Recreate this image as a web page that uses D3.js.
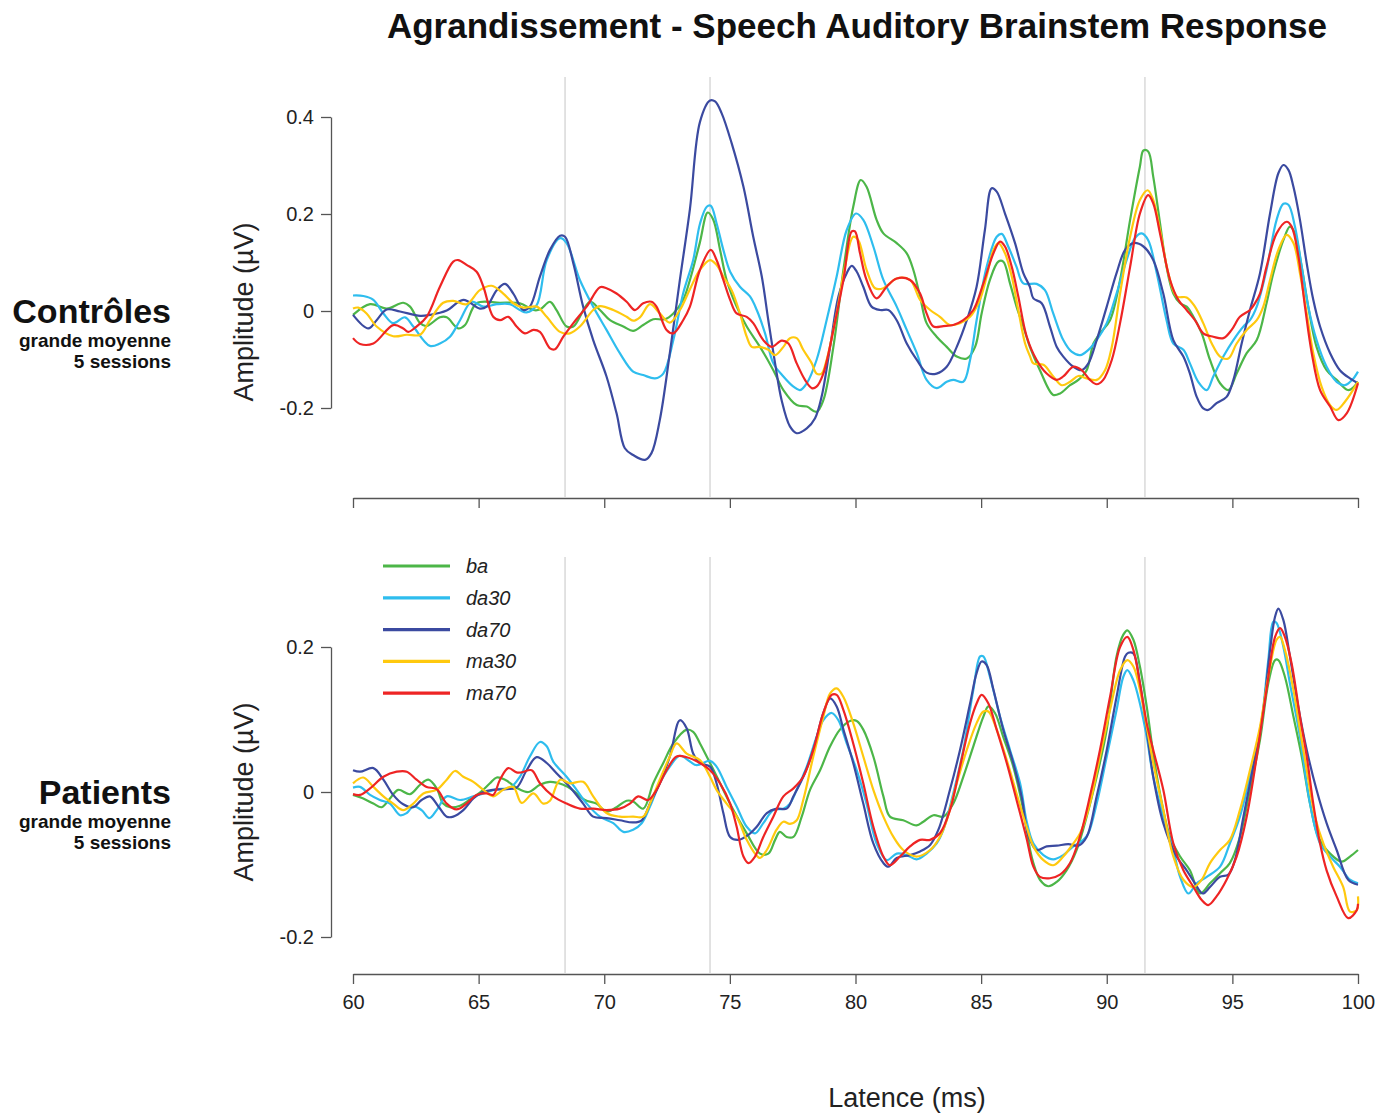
<!DOCTYPE html>
<html>
<head>
<meta charset="utf-8">
<script src="https://cdn.jsdelivr.net/npm/d3@7"></script>
<style>
  html, body { margin: 0; padding: 0; background: #ffffff; }
  svg { display: block; font-family: "Liberation Sans", Arial, Helvetica, sans-serif; }
</style>
</head>
<body>
<svg id="chart" width="1392" height="1113"></svg>
<script>
// ---- Stimulus conditions and styling keys ----
const conditions = ["ba", "da30", "da70", "ma30", "ma70"];
const conditionColors = ["#4cb648", "#2ebdee", "#3b4aa0", "#ffc90e", "#ee2424"];

// ---- Axis ticks ----
const xTicks = [60, 65, 70, 75, 80, 85, 90, 95, 100];
const ctrlTicks = [-0.2, 0, 0.2, 0.4];
const patTicks = [-0.2, 0, 0.2];

// ---- Reference latencies (ms) marked with vertical lines ----
const markerLatencies = [68.44, 74.21, 91.52];

// ---- Controls: grand average over 5 sessions, [latency ms, amplitude µV] ----
const ctrl_ba = [[60,-0.008],[60.68,0.014],[61.34,0.005],[62.0,0.017],[62.27,0.009],[62.67,-0.025],[62.93,-0.031],[63.46,-0.013],[63.73,-0.013],[64.19,-0.036],[64.46,-0.029],[64.92,0.016],[65.85,0.017],[66.64,0.016],[67.18,0.002],[67.44,0.003],[67.84,0.019],[68.1,0.002],[68.5,-0.032],[68.77,-0.032],[69.43,0.019],[69.83,0.002],[70.23,-0.019],[70.76,-0.032],[71.15,-0.041],[71.55,-0.029],[71.95,-0.017],[72.41,-0.017],[72.75,-0.005],[73.14,0.023],[73.41,0.064],[73.8,0.14],[74.12,0.203],[74.34,0.188],[74.61,0.126],[74.87,0.064],[75.27,0.009],[75.67,-0.032],[76.2,-0.074],[76.73,-0.122],[77.13,-0.163],[77.66,-0.194],[78.06,-0.197],[78.45,-0.208],[78.72,-0.184],[79.12,-0.074],[79.52,0.085],[79.91,0.215],[80.21,0.27],[80.44,0.256],[80.84,0.188],[81.11,0.16],[81.64,0.14],[82.04,0.119],[82.3,0.085],[82.57,0.03],[82.83,-0.025],[83.23,-0.053],[83.63,-0.074],[84.03,-0.094],[84.43,-0.098],[84.76,-0.074],[85.02,-0.005],[85.35,0.064],[85.69,0.102],[85.88,0.102],[86.15,0.057],[86.41,0.009],[86.68,-0.032],[86.94,-0.074],[87.34,-0.122],[87.87,-0.173],[88.14,-0.17],[88.54,-0.153],[88.87,-0.142],[89.2,-0.122],[89.47,-0.067],[89.73,-0.046],[90.13,-0.019],[90.53,0.064],[90.93,0.188],[91.32,0.298],[91.46,0.331],[91.65,0.329],[91.85,0.277],[92.12,0.181],[92.38,0.091],[92.65,0.036],[92.92,0.016],[93.18,0.009],[93.45,-0.012],[93.78,-0.046],[94.11,-0.101],[94.51,-0.149],[94.84,-0.163],[95.17,-0.129],[95.57,-0.087],[95.97,-0.06],[96.36,0.016],[96.63,0.078],[97.03,0.146],[97.29,0.174],[97.49,0.16],[97.76,0.091],[98.02,0.009],[98.35,-0.074],[98.75,-0.122],[99.15,-0.142],[99.62,-0.163],[100,-0.146]];

const ctrl_da30 = [[60,0.032],[60.41,0.031],[60.81,0.023],[61.21,-0.005],[61.6,-0.025],[62.07,-0.013],[62.4,-0.032],[63.06,-0.072],[63.46,-0.067],[63.86,-0.053],[64.26,-0.019],[64.72,0.019],[65.19,0.009],[65.72,0.014],[66.25,0.014],[66.64,0.002],[66.91,-0.003],[67.31,0.012],[67.71,0.105],[68.24,0.15],[68.5,0.14],[69.03,0.064],[69.56,0.009],[70.09,-0.039],[70.62,-0.087],[71.15,-0.125],[71.55,-0.132],[72.02,-0.139],[72.35,-0.129],[72.75,-0.06],[73.14,0.036],[73.54,0.105],[73.81,0.18],[74.08,0.215],[74.24,0.217],[74.47,0.181],[74.74,0.126],[75.01,0.081],[75.4,0.05],[75.8,0.03],[76.07,0.002],[76.4,-0.046],[76.73,-0.108],[77.13,-0.135],[77.53,-0.156],[77.79,-0.163],[78.06,-0.149],[78.45,-0.101],[78.85,-0.019],[79.25,0.071],[79.65,0.167],[80.02,0.201],[80.31,0.188],[80.71,0.133],[81.11,0.064],[81.64,0.009],[82.04,-0.039],[82.44,-0.087],[82.83,-0.142],[83.23,-0.159],[83.63,-0.146],[83.89,-0.142],[84.29,-0.146],[84.56,-0.101],[84.82,-0.019],[85.22,0.091],[85.62,0.153],[85.82,0.159],[86.08,0.133],[86.41,0.091],[86.68,0.057],[87.21,0.056],[87.54,0.043],[87.87,-0.005],[88.27,-0.06],[88.6,-0.084],[88.94,-0.091],[89.27,-0.08],[89.6,-0.06],[90.0,-0.025],[90.39,0.036],[90.79,0.105],[91.12,0.15],[91.39,0.16],[91.65,0.146],[91.99,0.078],[92.38,-0.019],[92.65,-0.067],[93.05,-0.08],[93.31,-0.108],[93.64,-0.146],[93.98,-0.163],[94.24,-0.135],[94.64,-0.094],[95.04,-0.06],[95.44,-0.032],[95.7,-0.019],[95.97,0.009],[96.36,0.085],[96.76,0.188],[97.03,0.221],[97.23,0.219],[97.49,0.174],[97.76,0.091],[98.02,0.009],[98.35,-0.06],[98.75,-0.115],[99.15,-0.146],[99.48,-0.153],[99.82,-0.139],[100,-0.125]];

const ctrl_da70 = [[60,-0.008],[60.61,-0.036],[60.94,-0.019],[61.34,0.003],[61.87,-0.001],[62.67,-0.01],[63.06,-0.008],[63.73,0.001],[64.39,0.023],[65.05,0.005],[65.32,0.009],[65.72,0.043],[66.05,0.056],[66.38,0.036],[66.78,0.002],[67.04,0.009],[67.44,0.071],[67.84,0.126],[68.24,0.155],[68.44,0.153],[68.77,0.098],[69.16,0.009],[69.56,-0.06],[70.09,-0.135],[70.49,-0.211],[70.82,-0.283],[71.15,-0.297],[71.62,-0.307],[71.88,-0.293],[72.21,-0.225],[72.61,-0.087],[73.01,0.064],[73.41,0.21],[73.81,0.39],[74.21,0.434],[74.41,0.432],[74.67,0.408],[75.07,0.346],[75.54,0.256],[75.93,0.153],[76.27,0.071],[76.53,-0.019],[76.8,-0.108],[77.06,-0.184],[77.39,-0.238],[77.66,-0.252],[78.06,-0.242],[78.39,-0.221],[78.65,-0.177],[78.99,-0.074],[79.32,0.03],[79.65,0.078],[79.85,0.093],[80.05,0.081],[80.31,0.05],[80.64,0.009],[80.98,0.002],[81.31,0.002],[81.64,-0.019],[82.04,-0.067],[82.44,-0.101],[82.83,-0.127],[83.23,-0.129],[83.63,-0.115],[84.03,-0.074],[84.43,-0.019],[84.82,0.05],[85.15,0.167],[85.42,0.253],[85.62,0.246],[85.95,0.201],[86.35,0.14],[86.68,0.078],[86.94,0.05],[87.08,0.026],[87.41,0.016],[87.74,-0.032],[88.01,-0.074],[88.27,-0.094],[88.67,-0.115],[89.0,-0.122],[89.27,-0.108],[89.6,-0.06],[90.0,0.009],[90.39,0.078],[90.73,0.126],[91.06,0.14],[91.46,0.133],[91.85,0.105],[92.25,0.036],[92.65,-0.06],[93.05,-0.094],[93.31,-0.129],[93.58,-0.177],[93.84,-0.201],[94.04,-0.204],[94.37,-0.19],[94.77,-0.177],[95.04,-0.142],[95.37,-0.067],[95.7,0.002],[96.1,0.078],[96.5,0.201],[96.83,0.284],[97.03,0.301],[97.23,0.291],[97.43,0.256],[97.69,0.188],[97.96,0.098],[98.22,0.023],[98.49,-0.032],[98.89,-0.087],[99.28,-0.122],[99.68,-0.139],[100,-0.149]];

const ctrl_ma30 = [[60,0.005],[60.21,0.007],[60.54,-0.005],[60.94,-0.032],[61.6,-0.052],[62.14,-0.049],[62.67,-0.049],[63.06,-0.019],[63.59,0.017],[63.99,0.021],[64.52,0.014],[65.05,0.043],[65.52,0.052],[65.98,0.036],[66.38,0.016],[66.78,0.007],[67.31,0.009],[67.71,-0.012],[68.24,-0.043],[68.63,-0.046],[69.03,-0.032],[69.56,0.002],[69.83,0.01],[70.36,0.002],[70.89,-0.012],[71.15,-0.02],[71.42,-0.013],[71.82,0.014],[72.21,-0.005],[72.61,-0.024],[73.01,0.002],[73.41,0.045],[73.81,0.085],[74.21,0.105],[74.47,0.095],[74.74,0.071],[75.07,0.043],[75.4,-0.005],[75.67,-0.053],[75.87,-0.074],[76.2,-0.074],[76.53,-0.08],[76.8,-0.091],[77.13,-0.074],[77.39,-0.056],[77.66,-0.056],[77.92,-0.08],[78.26,-0.108],[78.45,-0.129],[78.65,-0.129],[78.85,-0.101],[79.25,-0.005],[79.58,0.091],[79.91,0.153],[80.11,0.146],[80.44,0.085],[80.78,0.047],[81.11,0.047],[81.64,0.067],[82.17,0.064],[82.57,0.023],[82.97,0.002],[83.36,-0.012],[83.76,-0.029],[84.16,-0.025],[84.56,-0.012],[84.95,0.023],[85.22,0.071],[85.49,0.126],[85.69,0.14],[85.95,0.119],[86.22,0.071],[86.48,0.002],[86.75,-0.067],[86.95,-0.094],[87.08,-0.108],[87.48,-0.111],[87.87,-0.135],[88.21,-0.153],[88.54,-0.146],[88.87,-0.134],[89.2,-0.139],[89.6,-0.142],[89.93,-0.122],[90.2,-0.074],[90.53,0.036],[90.93,0.153],[91.32,0.229],[91.63,0.249],[91.85,0.229],[92.12,0.167],[92.45,0.078],[92.78,0.03],[93.18,0.028],[93.51,0.009],[93.84,-0.025],[94.18,-0.067],[94.51,-0.094],[94.84,-0.098],[95.17,-0.067],[95.57,-0.039],[95.97,-0.019],[96.23,0.009],[96.5,0.064],[96.83,0.126],[97.16,0.157],[97.43,0.14],[97.69,0.078],[97.96,-0.005],[98.22,-0.087],[98.55,-0.156],[98.89,-0.194],[99.15,-0.204],[99.48,-0.187],[100,-0.146]];

const ctrl_ma70 = [[60,-0.056],[60.28,-0.068],[60.81,-0.067],[61.6,-0.029],[62.0,-0.036],[62.2,-0.043],[62.53,-0.032],[62.93,-0.012],[63.46,0.05],[63.99,0.102],[64.19,0.105],[64.52,0.095],[64.92,0.081],[65.19,0.05],[65.58,-0.012],[65.85,-0.019],[66.18,-0.012],[66.51,-0.032],[66.84,-0.046],[67.18,-0.039],[67.44,-0.043],[67.84,-0.077],[68.04,-0.079],[68.37,-0.053],[68.77,-0.025],[69.3,0.009],[69.83,0.049],[70.09,0.047],[70.49,0.036],[70.89,0.019],[71.22,0.002],[71.55,0.016],[71.88,0.019],[72.08,0.009],[72.48,-0.039],[72.75,-0.046],[73.14,-0.019],[73.41,0.009],[73.81,0.085],[74.24,0.126],[74.47,0.105],[74.74,0.064],[75.01,0.023],[75.27,-0.005],[75.67,-0.012],[75.93,-0.025],[76.33,-0.06],[76.66,-0.074],[77.06,-0.061],[77.33,-0.067],[77.66,-0.108],[77.99,-0.142],[78.26,-0.159],[78.45,-0.156],[78.72,-0.129],[79.12,-0.039],[79.52,0.064],[79.85,0.164],[79.98,0.164],[80.18,0.119],[80.44,0.064],[80.84,0.026],[81.24,0.05],[81.64,0.067],[82.17,0.064],[82.57,0.036],[82.83,-0.005],[83.1,-0.032],[83.5,-0.031],[83.89,-0.029],[84.29,-0.019],[84.69,0.002],[85.09,0.057],[85.49,0.119],[85.75,0.143],[85.95,0.133],[86.22,0.091],[86.48,0.03],[86.81,-0.052],[87.21,-0.101],[87.61,-0.129],[88.01,-0.142],[88.27,-0.135],[88.67,-0.115],[89.0,-0.122],[89.33,-0.142],[89.6,-0.151],[89.86,-0.142],[90.2,-0.101],[90.53,-0.025],[90.93,0.091],[91.32,0.201],[91.65,0.239],[91.85,0.222],[92.12,0.16],[92.52,0.064],[92.85,0.023],[93.18,0.002],[93.51,-0.019],[93.84,-0.046],[94.24,-0.053],[94.64,-0.056],[94.97,-0.039],[95.3,-0.012],[95.7,0.002],[95.9,0.016],[96.1,0.036],[96.36,0.091],[96.76,0.16],[97.16,0.184],[97.36,0.174],[97.63,0.112],[97.89,0.009],[98.16,-0.087],[98.49,-0.163],[98.89,-0.197],[99.22,-0.225],[99.55,-0.211],[100,-0.149]];

// ---- Patients: grand average over 5 sessions, [latency ms, amplitude µV] ----
const pat_ba = [[60,-0.004],[60.41,-0.009],[60.81,-0.016],[61.14,-0.021],[61.47,-0.009],[61.8,0.003],[62.27,-0.003],[62.67,0.01],[63.0,0.017],[63.33,0.005],[63.59,-0.016],[63.86,-0.021],[64.26,-0.019],[64.66,-0.01],[65.05,-0.001],[65.45,0.012],[65.72,0.02],[66.05,0.017],[66.51,0.006],[66.98,0.0],[67.44,0.01],[67.84,0.014],[68.37,0.01],[68.77,0.002],[69.23,-0.011],[69.69,-0.016],[70.09,-0.027],[70.49,-0.021],[70.89,-0.012],[71.15,-0.013],[71.55,-0.023],[71.95,0.012],[72.35,0.04],[72.75,0.067],[73.28,0.086],[73.54,0.083],[73.81,0.067],[74.21,0.04],[74.61,0.012],[75.14,-0.025],[75.67,-0.057],[76.2,-0.085],[76.53,-0.085],[76.8,-0.066],[76.99,-0.055],[77.26,-0.062],[77.53,-0.062],[77.86,-0.034],[78.19,0.003],[78.59,0.03],[78.99,0.063],[79.38,0.086],[79.78,0.098],[80.05,0.098],[80.31,0.086],[80.71,0.049],[81.11,-0.006],[81.37,-0.034],[81.9,-0.039],[82.43,-0.046],[82.7,-0.041],[83.1,-0.032],[83.5,-0.034],[83.89,-0.016],[84.29,0.021],[84.69,0.063],[85.09,0.104],[85.29,0.118],[85.55,0.109],[85.88,0.076],[86.28,0.035],[86.68,-0.025],[86.95,-0.08],[87.08,-0.098],[87.34,-0.121],[87.67,-0.13],[88.01,-0.124],[88.4,-0.108],[88.8,-0.08],[89.2,-0.034],[89.6,0.021],[90.0,0.086],[90.39,0.187],[90.66,0.217],[90.82,0.223],[91.06,0.21],[91.32,0.173],[91.59,0.118],[91.85,0.053],[92.12,-0.002],[92.52,-0.062],[92.92,-0.089],[93.31,-0.108],[93.71,-0.14],[94.11,-0.126],[94.51,-0.112],[94.9,-0.098],[95.3,-0.062],[95.7,0.003],[96.1,0.072],[96.43,0.15],[96.7,0.182],[96.83,0.182],[97.09,0.159],[97.43,0.104],[97.76,0.049],[98.09,-0.016],[98.42,-0.062],[98.89,-0.085],[99.35,-0.096],[99.68,-0.089],[100,-0.08]];

const pat_da30 = [[60,0.006],[60.28,0.007],[60.68,-0.004],[61.07,-0.011],[61.47,-0.016],[61.87,-0.032],[62.14,-0.029],[62.4,-0.02],[62.73,-0.025],[63.04,-0.036],[63.33,-0.025],[63.73,-0.006],[64.26,-0.011],[64.79,-0.006],[65.19,-0.002],[65.72,0.004],[66.25,0.006],[66.64,0.021],[67.04,0.049],[67.44,0.069],[67.71,0.063],[67.97,0.042],[68.5,0.021],[68.9,0.003],[69.3,-0.016],[69.83,-0.034],[70.36,-0.043],[70.76,-0.055],[71.15,-0.052],[71.49,-0.043],[71.82,-0.02],[72.21,0.012],[72.61,0.035],[73.01,0.05],[73.41,0.042],[73.68,0.037],[74.21,0.043],[74.47,0.035],[74.87,0.007],[75.27,-0.02],[75.67,-0.048],[76.0,-0.057],[76.33,-0.043],[76.73,-0.025],[77.13,-0.023],[77.39,-0.016],[77.66,0.003],[78.06,0.035],[78.45,0.076],[78.72,0.099],[79.05,0.109],[79.32,0.099],[79.65,0.067],[80.05,0.03],[80.44,-0.016],[80.84,-0.071],[81.24,-0.094],[81.64,-0.085],[82.04,-0.087],[82.43,-0.093],[82.83,-0.085],[83.23,-0.071],[83.5,-0.052],[83.89,-0.002],[84.29,0.058],[84.69,0.141],[84.96,0.187],[85.09,0.187],[85.35,0.159],[85.75,0.104],[86.15,0.058],[86.55,0.012],[86.81,-0.04],[87.08,-0.071],[87.48,-0.087],[87.87,-0.093],[88.27,-0.087],[88.67,-0.075],[89.07,-0.066],[89.27,-0.057],[89.6,-0.016],[90.0,0.049],[90.39,0.113],[90.66,0.159],[90.82,0.168],[91.06,0.154],[91.32,0.122],[91.59,0.076],[91.85,0.021],[92.25,-0.034],[92.65,-0.08],[92.92,-0.117],[93.25,-0.14],[93.58,-0.126],[93.98,-0.117],[94.51,-0.103],[94.9,-0.071],[95.3,-0.034],[95.7,0.021],[96.1,0.081],[96.43,0.182],[96.63,0.235],[96.76,0.233],[97.03,0.2],[97.29,0.15],[97.69,0.076],[98.09,-0.016],[98.49,-0.071],[98.89,-0.089],[99.28,-0.103],[99.68,-0.121],[100,-0.126]];

const pat_da70 = [[60,0.03],[60.28,0.028],[60.81,0.033],[61.21,0.017],[61.6,-0.004],[62.0,-0.017],[62.4,-0.021],[62.73,-0.011],[63.06,-0.006],[63.4,-0.02],[63.73,-0.034],[63.99,-0.034],[64.39,-0.025],[64.79,-0.009],[65.19,0.0],[65.58,0.003],[66.11,0.004],[66.51,0.006],[66.91,0.03],[67.31,0.048],[67.71,0.04],[68.1,0.026],[68.63,0.007],[69.16,-0.016],[69.56,-0.034],[70.09,-0.036],[70.62,-0.039],[71.15,-0.042],[71.49,-0.039],[71.82,-0.016],[72.21,0.012],[72.61,0.049],[73.01,0.099],[73.28,0.088],[73.54,0.053],[73.8,0.04],[74.21,0.035],[74.47,0.012],[74.74,-0.029],[75.01,-0.062],[75.34,-0.066],[75.74,-0.059],[76.07,-0.048],[76.47,-0.029],[76.86,-0.023],[77.26,-0.023],[77.53,-0.006],[77.92,0.021],[78.32,0.058],[78.72,0.109],[78.99,0.129],[79.25,0.118],[79.52,0.086],[79.91,0.04],[80.31,-0.016],[80.71,-0.071],[81.11,-0.098],[81.31,-0.103],[81.64,-0.091],[82.17,-0.087],[82.57,-0.082],[82.97,-0.073],[83.3,-0.052],[83.76,0.003],[84.16,0.058],[84.56,0.122],[84.82,0.164],[85.02,0.18],[85.22,0.175],[85.49,0.141],[85.88,0.086],[86.28,0.04],[86.62,-0.008],[86.88,-0.06],[87.21,-0.08],[87.61,-0.075],[88.01,-0.074],[88.47,-0.072],[88.87,-0.074],[89.2,-0.062],[89.6,-0.006],[90.0,0.058],[90.39,0.131],[90.73,0.187],[90.86,0.192],[91.06,0.191],[91.32,0.15],[91.59,0.086],[91.85,0.021],[92.25,-0.043],[92.78,-0.089],[93.18,-0.108],[93.51,-0.126],[93.82,-0.14],[94.11,-0.131],[94.51,-0.117],[94.84,-0.114],[95.1,-0.094],[95.44,-0.034],[95.83,0.035],[96.23,0.113],[96.5,0.196],[96.7,0.242],[96.83,0.253],[97.03,0.237],[97.29,0.187],[97.62,0.118],[97.96,0.058],[98.35,0.003],[98.75,-0.043],[99.15,-0.08],[99.61,-0.121],[100,-0.128]];

const pat_ma30 = [[60,0.012],[60.41,0.02],[60.81,0.007],[61.21,-0.006],[61.6,-0.016],[62.0,-0.025],[62.4,-0.016],[62.8,-0.002],[63.33,0.003],[63.73,0.017],[64.06,0.029],[64.39,0.021],[64.79,0.014],[65.19,0.003],[65.58,-0.006],[65.98,0.003],[66.38,0.007],[66.71,-0.015],[67.18,-0.002],[67.57,-0.016],[67.84,-0.012],[68.24,0.017],[68.63,0.012],[69.16,0.014],[69.56,-0.006],[70.09,-0.029],[70.62,-0.034],[71.15,-0.034],[71.55,-0.034],[71.82,-0.016],[72.21,0.017],[72.61,0.049],[72.88,0.067],[73.28,0.053],[73.81,0.044],[74.21,0.021],[74.47,0.003],[74.87,-0.016],[75.27,-0.034],[75.67,-0.066],[76.0,-0.085],[76.2,-0.091],[76.47,-0.08],[76.86,-0.052],[77.13,-0.041],[77.39,-0.044],[77.66,-0.039],[77.92,-0.011],[78.32,0.049],[78.72,0.104],[78.99,0.136],[79.25,0.143],[79.52,0.131],[79.91,0.095],[80.31,0.049],[80.71,0.003],[81.11,-0.034],[81.51,-0.062],[81.9,-0.08],[82.43,-0.089],[82.97,-0.08],[83.36,-0.062],[83.63,-0.039],[84.03,0.012],[84.43,0.058],[84.82,0.095],[85.09,0.111],[85.29,0.111],[85.62,0.086],[86.02,0.044],[86.41,-0.002],[86.81,-0.048],[87.08,-0.075],[87.48,-0.094],[87.87,-0.101],[88.27,-0.089],[88.67,-0.071],[88.94,-0.057],[89.33,-0.016],[89.73,0.049],[90.13,0.113],[90.53,0.168],[90.82,0.182],[91.06,0.173],[91.32,0.141],[91.59,0.09],[91.85,0.04],[92.25,-0.025],[92.65,-0.089],[93.05,-0.121],[93.45,-0.131],[93.78,-0.121],[94.11,-0.098],[94.51,-0.08],[94.9,-0.066],[95.3,-0.025],[95.7,0.03],[96.1,0.09],[96.43,0.159],[96.76,0.21],[96.9,0.214],[97.09,0.196],[97.43,0.141],[97.69,0.086],[97.96,0.03],[98.29,-0.034],[98.62,-0.071],[99.01,-0.103],[99.41,-0.131],[99.68,-0.165],[99.95,-0.163],[100,-0.144]];

const pat_ma70 = [[60,-0.003],[60.28,-0.004],[60.68,0.005],[61.21,0.021],[61.74,0.028],[62.14,0.028],[62.53,0.017],[62.93,0.007],[63.33,0.004],[63.73,-0.016],[64.12,-0.024],[64.52,-0.016],[64.92,-0.004],[65.32,-0.002],[65.58,-0.004],[65.85,0.017],[66.18,0.033],[66.51,0.027],[66.71,0.027],[67.11,0.03],[67.44,0.012],[67.97,-0.006],[68.5,-0.016],[69.03,-0.023],[69.56,-0.023],[70.09,-0.025],[70.62,-0.023],[71.02,-0.016],[71.35,-0.006],[71.75,-0.011],[72.08,0.003],[72.48,0.03],[72.88,0.049],[73.28,0.048],[73.81,0.04],[74.21,0.03],[74.61,0.012],[75.01,-0.016],[75.27,-0.048],[75.54,-0.089],[75.74,-0.098],[76.0,-0.089],[76.33,-0.062],[76.73,-0.034],[77.13,-0.006],[77.53,0.005],[77.92,0.021],[78.32,0.058],[78.72,0.109],[79.05,0.134],[79.25,0.134],[79.52,0.113],[79.91,0.067],[80.31,0.012],[80.71,-0.048],[81.11,-0.089],[81.37,-0.101],[81.77,-0.089],[82.17,-0.075],[82.57,-0.066],[82.97,-0.066],[83.36,-0.057],[83.76,-0.025],[84.16,0.035],[84.56,0.095],[84.82,0.122],[85.02,0.134],[85.29,0.122],[85.62,0.086],[86.02,0.04],[86.41,-0.011],[86.81,-0.064],[87.08,-0.103],[87.34,-0.117],[87.74,-0.119],[88.14,-0.114],[88.54,-0.098],[88.93,-0.062],[89.33,-0.006],[89.73,0.058],[90.13,0.131],[90.53,0.2],[90.82,0.214],[91.06,0.196],[91.32,0.15],[91.59,0.095],[91.85,0.058],[92.25,0.003],[92.65,-0.071],[93.05,-0.108],[93.45,-0.131],[93.78,-0.149],[94.04,-0.156],[94.37,-0.144],[94.77,-0.121],[95.17,-0.089],[95.57,-0.034],[95.97,0.049],[96.36,0.141],[96.7,0.214],[96.9,0.226],[97.09,0.214],[97.36,0.177],[97.69,0.104],[97.96,0.049],[98.22,-0.016],[98.49,-0.071],[98.75,-0.108],[99.15,-0.144],[99.61,-0.174],[99.95,-0.163],[100,-0.154]];

const ctrlSeries = [ctrl_ba, ctrl_da30, ctrl_da70, ctrl_ma30, ctrl_ma70];
const patSeries = [pat_ba, pat_da30, pat_da70, pat_ma30, pat_ma70];

// ---- Layout ----
const svg = d3.select("#chart");
const FONT = '"Liberation Sans", Arial, Helvetica, sans-serif';
const axisX = 331;            // position of the vertical amplitude axes
const x = d3.scaleLinear().domain([60, 100]).range([353, 1358]);

const panels = [
  {
    series: ctrlSeries, ticks: ctrlTicks,
    y: d3.scaleLinear().domain([-0.2, 0.4]).range([408, 117]),
    top: 77, bottom: 497, axisY: 498, showXLabels: false,
    titleY: 312, group: "Contrôles", groupY: 323
  },
  {
    series: patSeries, ticks: patTicks,
    y: d3.scaleLinear().domain([-0.2, 0.2]).range([937, 647]),
    top: 557, bottom: 973, axisY: 974, showXLabels: true,
    titleY: 792, group: "Patients", groupY: 804
  }
];

// Title
svg.append("text")
  .attr("x", 857).attr("y", 38)
  .attr("text-anchor", "middle")
  .style("font-family", FONT).style("font-weight", "bold").style("font-size", "35px")
  .attr("fill", "#111")
  .text("Agrandissement - Speech Auditory Brainstem Response");

const fmtTick = d => d === 0 ? "0" : String(d);

panels.forEach((p, pi) => {
  const g = svg.append("g");

  // Clip region for the traces
  const clipId = "clip" + pi;
  svg.append("clipPath").attr("id", clipId)
    .append("rect").attr("x", x(60) - 2).attr("y", p.top)
    .attr("width", x(100) - x(60) + 4).attr("height", p.bottom - p.top);

  // Vertical reference latencies
  g.selectAll("line.marker").data(markerLatencies).enter().append("line")
    .attr("class", "marker")
    .attr("x1", d => x(d)).attr("x2", d => x(d))
    .attr("y1", p.top).attr("y2", p.bottom)
    .attr("stroke", "#d6d6d6").attr("stroke-width", 1.4);

  // Traces
  const line = d3.line()
    .x(d => x(d[0])).y(d => p.y(d[1]))
    .curve(d3.curveCatmullRom.alpha(0.5));
  g.append("g").attr("clip-path", `url(#${clipId})`)
    .selectAll("path").data(p.series).enter().append("path")
    .attr("d", line)
    .attr("fill", "none")
    .attr("stroke", (d, i) => conditionColors[i])
    .attr("stroke-width", 2.2)
    .attr("stroke-linejoin", "round");

  // Amplitude axis
  const yAxis = d3.axisLeft(p.y).tickValues(p.ticks).tickFormat(fmtTick)
    .tickSizeInner(10).tickSizeOuter(0).tickPadding(7);
  const ya = g.append("g").attr("transform", `translate(${axisX},0)`).call(yAxis);
  ya.select(".domain").attr("stroke", "#555").attr("stroke-width", 1.3);
  ya.selectAll(".tick line").attr("stroke", "#555").attr("stroke-width", 1.3);
  ya.selectAll(".tick text").style("font-family", FONT).style("font-size", "20px").attr("fill", "#222");

  // Latency axis
  const xAxis = d3.axisBottom(x).tickValues(xTicks)
    .tickFormat(p.showXLabels ? d3.format("d") : () => "")
    .tickSizeInner(10).tickSizeOuter(0).tickPadding(11);
  const xa = g.append("g").attr("transform", `translate(0,${p.axisY})`).call(xAxis);
  xa.select(".domain").attr("stroke", "#555").attr("stroke-width", 1.3);
  xa.selectAll(".tick line").attr("stroke", "#555").attr("stroke-width", 1.3);
  xa.selectAll(".tick text").style("font-family", FONT).style("font-size", "20px").attr("fill", "#222");

  // Amplitude axis title
  g.append("text")
    .attr("transform", `translate(253,${p.titleY}) rotate(-90)`)
    .attr("text-anchor", "middle")
    .style("font-family", FONT).style("font-size", "27px")
    .attr("fill", "#222")
    .text("Amplitude (µV)");

  // Group label
  const gl = g.append("g").attr("text-anchor", "end").style("font-family", FONT)
    .style("font-weight", "bold").attr("fill", "#111");
  gl.append("text").attr("x", 171).attr("y", p.groupY).style("font-size", "34px").text(p.group);
  gl.append("text").attr("x", 171).attr("y", p.groupY + 24).style("font-size", "19px").text("grande moyenne");
  gl.append("text").attr("x", 171).attr("y", p.groupY + 45).style("font-size", "19px").text("5 sessions");
});

// Latency axis title
svg.append("text")
  .attr("x", 907).attr("y", 1107)
  .attr("text-anchor", "middle")
  .style("font-family", FONT).style("font-size", "27px")
  .attr("fill", "#222")
  .text("Latence (ms)");

// Legend
const legend = svg.append("g").attr("transform", "translate(383,566)");
const rows = legend.selectAll("g").data(conditions).enter().append("g")
  .attr("transform", (d, i) => `translate(0,${i * 31.8})`);
rows.append("line")
  .attr("x1", 0).attr("x2", 67).attr("y1", 0).attr("y2", 0)
  .attr("stroke", (d, i) => conditionColors[i]).attr("stroke-width", 3.2);
rows.append("text")
  .attr("x", 83).attr("y", 7)
  .style("font-family", FONT).style("font-style", "italic").style("font-size", "20px")
  .attr("fill", "#222")
  .text(d => d);
</script>
</body>
</html>
